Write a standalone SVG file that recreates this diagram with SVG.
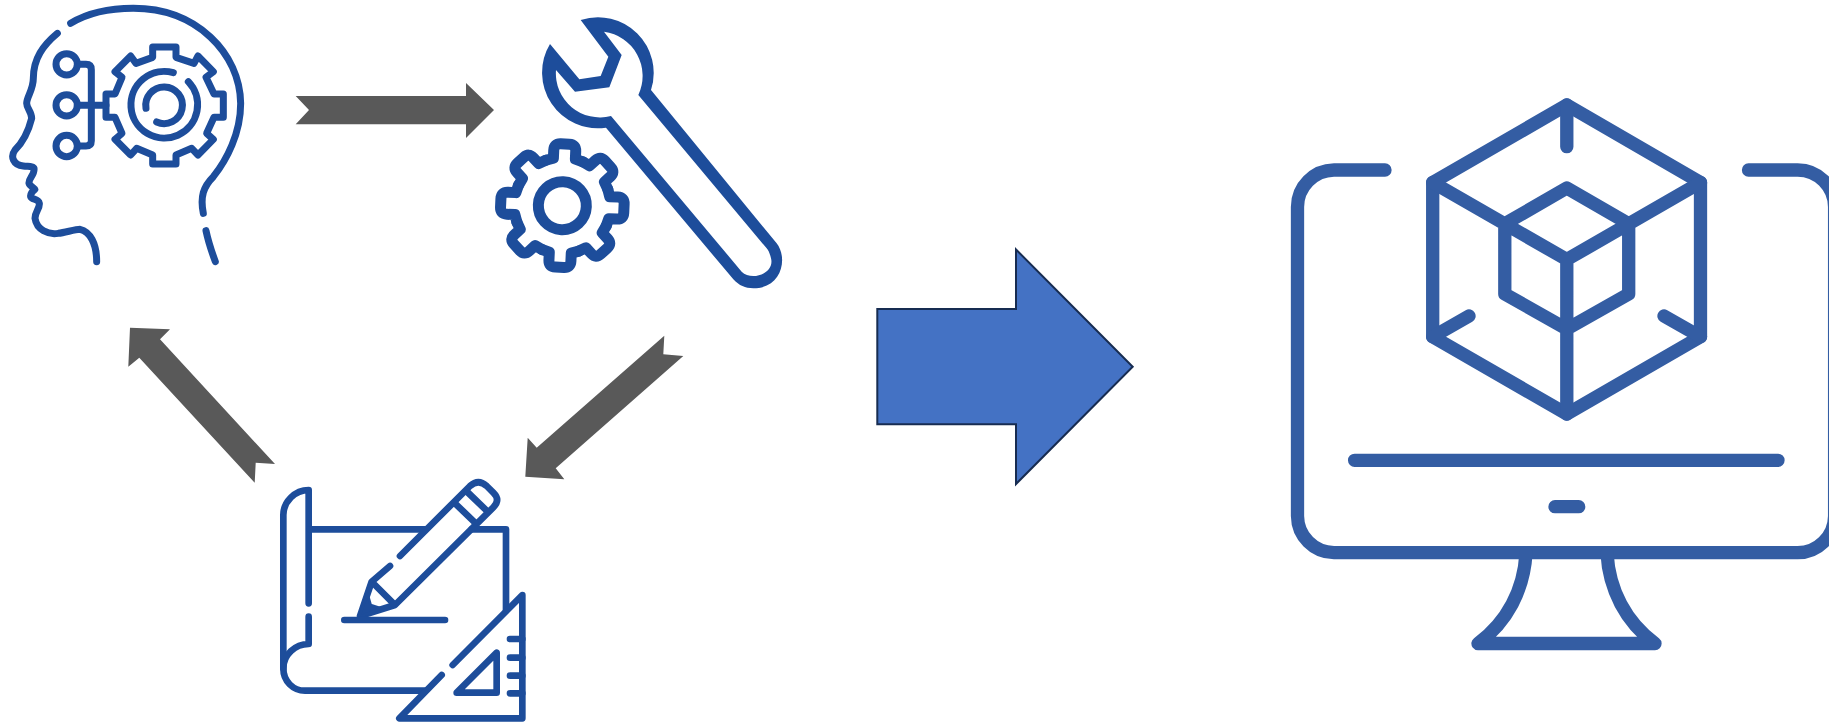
<svg xmlns="http://www.w3.org/2000/svg" width="1829" height="724" viewBox="0 0 1829 724">
<style>
.i{fill:none;stroke:#1d4d9b;stroke-linecap:round;stroke-linejoin:round}
.m{fill:none;stroke:#345da3;stroke-width:13.3;stroke-linecap:round;stroke-linejoin:round}
.g{fill:#595959}
</style>
<defs>
<path id="wt" d="M-55.5,-134 L-33,-141 V-165 Q-33,-185 -13,-185 H13 Q33,-185 33,-165 V-141 L55.5,-134"/>
</defs>
<rect width="1829" height="724" fill="#fff"/>
<g id="head" class="i" stroke-width="21" transform="scale(.33333)">
<path d="M212,70 C270,35 340,25 400,25 C590,25 720,160 722,310 C722,400 680,480 640,530 C610,560 600,590 610,640"/>
<path d="M172,100 C130,135 100,175 100,235 C100,270 80,290 80,310 C80,325 95,335 95,355 C85,395 65,430 45,450 C30,470 40,495 70,498 C85,500 100,498 102,505 C105,525 85,535 87,550 C90,560 105,565 105,568 C100,572 90,580 92,590 C95,600 115,595 118,610 C120,625 105,635 105,655 C110,690 145,705 175,700 C195,698 225,688 240,688 C270,695 290,730 290,785"/>
<path d="M618,692 C625,725 635,755 646,785"/>
<path d="M458,172 V141 H528 V172 L582,190 L594,168 L640,215 L618,232 L642,282 H670 V352 H642 L620,400 L640,418 L594,465 L575,445 L528,465 V492 H458 V465 L410,445 L392,465 L345,418 L366,400 L345,352 H318 V282 H345 L366,232 L345,215 L392,168 L408,190 Z"/>
<path d="M520,218 A100,100 0 1 0 565,245"/>
<path d="M438,325 A55,55 0 1 1 470,366"/>
<circle cx="200" cy="193" r="32"/>
<circle cx="200" cy="316" r="32"/>
<circle cx="200" cy="438" r="32"/>
<path d="M240,193 H258 Q274,193 274,209 V422 Q274,438 258,438 H240 M232,316 H318"/>
</g>
<g id="wrench" transform="translate(480,0) scale(.33333)">
<path fill="#1d4d9b" fill-rule="evenodd" d="M302,60 A167,167 0 0 1 513,270 L890,730 C925,775 905,865 820,865 C795,865 778,857 760,838 L378,383 A167,167 0 0 1 210,132 L298,238 L362,228 L385,170 Z M372,95 L425,165 L388,262 L285,275 L228,210 A132,132 0 0 0 393,348 L785,815 C815,845 885,820 873,775 C870,762 866,752 860,745 L475,285 A134,134 0 0 0 372,95 Z"/>
<g class="i" stroke-width="33" transform="translate(247,617) rotate(2.5)">
<circle r="72"/>
<use href="#wt"/>
<use href="#wt" transform="rotate(45)"/>
<use href="#wt" transform="rotate(90)"/>
<use href="#wt" transform="rotate(135)"/>
<use href="#wt" transform="rotate(180)"/>
<use href="#wt" transform="rotate(225)"/>
<use href="#wt" transform="rotate(270)"/>
<use href="#wt" transform="rotate(315)"/>
</g>
</g>
<g id="design" class="i" stroke-width="20" transform="translate(260,460) scale(.33333)">
<path d="M146,430 V90 C105,90 70,125 70,165 V625 C70,665 100,692 135,692 H495"/>
<path d="M146,470 V552 C105,552 70,585 70,625"/>
<path d="M150,208 H495 M635,208 H738 V450"/>
<path d="M420,288 L630,78 Q655,55 680,78 L700,98 Q722,120 700,142 L405,435 L300,468 L335,365 L390,318"/>
<path d="M585,130 L645,188 M622,96 L680,152 M345,375 L400,430"/>
<path d="M297,472 L322,400 L332,435 L362,445 Z" fill="#1d4d9b" stroke-width="8"/>
<path d="M253,480 H555"/>
<path d="M545,645 L418,775 H787 V405 L578,615"/>
<path d="M750,537 H787 M750,593 H787 M750,647 H787 M750,700 H787"/>
<path d="M710,578 V698 H590 Z"/>
</g>
<g id="monitor">
<path class="m" d="M1385,170 H1334 A37,37 0 0 0 1297.5,207 V516 A37,37 0 0 0 1334,552.7 H1797.5 A37,37 0 0 0 1834.6,516 V207 A37,37 0 0 0 1797.5,170 H1748.5"/>
<path class="m" d="M1354.6,460.3 H1778 M1555,506.7 H1578.7"/>
<path class="m" d="M1526,553 C1524,590 1507,622 1478,643.5 H1655 C1626,622 1609,590 1607,553"/>
<path class="m" d="M1566.8,105 L1700.5,182.5 V336.7 L1566.8,414 L1432.7,336.7 V182.5 Z"/>
<path class="m" d="M1566.8,105 V146.7 M1432.7,182.5 L1566.8,259.6 L1700.5,182.5 M1566.8,259.6 V414 M1504.8,223.8 L1566.8,188 L1628.7,223.8 V294 L1566.8,329 L1504.8,294 Z M1432.7,336.7 L1469,316 M1700.5,336.7 L1664,316"/>
</g>
<g id="connectors">
<path class="g" d="M295.7,96 H466 V83 L494,110 L466,138 V124.3 H295.7 L309,110 Z"/>
<path class="g" d="M664.3,335.7 L663.3,354.3 L683.3,356 L555.7,468.3 L564.3,479.3 L525.3,476.7 L527.7,437.7 L536.7,447.7 Z"/>
<path class="g" d="M130,327.7 L170,329.3 L160,339.3 L275,464 L255.7,462.7 L254.7,482.7 L139.3,357.7 L128.3,366.7 Z"/>
<path d="M877.3,309 H1016 V249.5 L1132.7,366.7 L1016,484 V424.3 H877.3 Z" fill="#4472c4" stroke="#172c51" stroke-width="2"/>
</g>
</svg>
